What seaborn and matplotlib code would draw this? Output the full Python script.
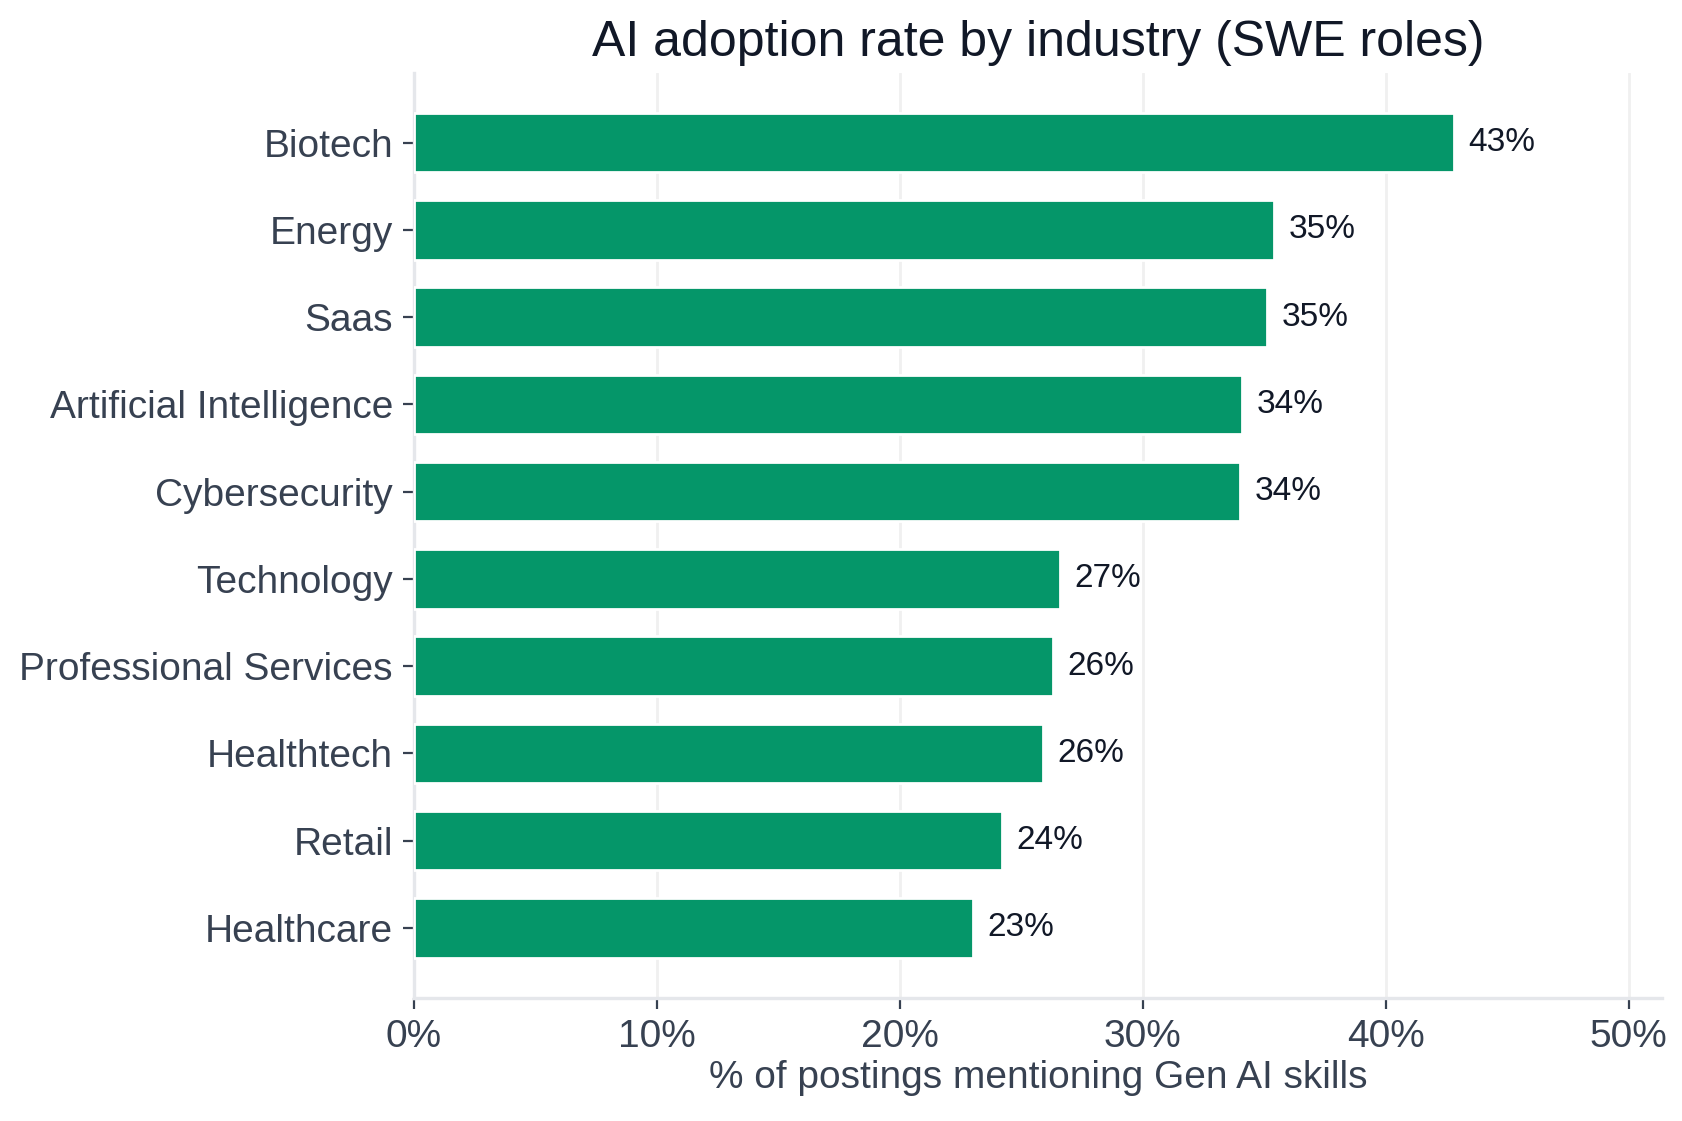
import numpy as np
import pandas as pd
import matplotlib
matplotlib.use('Agg')
import matplotlib.pyplot as plt
import seaborn as sns
from matplotlib.ticker import FuncFormatter

# 各行业 SWE 岗位中提到 Gen AI 技能的比例 (%)
industries = ['Biotech', 'Energy', 'Saas', 'Artificial Intelligence', 'Cybersecurity',
              'Technology', 'Professional Services', 'Healthtech', 'Retail', 'Healthcare']
rates = [42.8, 35.4, 35.1, 34.1, 34.0, 26.6, 26.3, 25.9, 24.2, 23.0]

df = pd.DataFrame({'industry': industries, 'rate': rates})

sns.set_theme(style='white')
plt.rcParams['font.family'] = ['Liberation Sans', 'DejaVu Sans']

fig, ax = plt.subplots(figsize=(8.41, 5.605), dpi=200)
fig.subplots_adjust(left=0.246, right=0.988, top=0.935, bottom=0.11)

sns.barplot(data=df, x='rate', y='industry', color='#059669', saturation=1,
            width=0.68, ax=ax, zorder=3)

for i, v in enumerate(df['rate']):
    ax.text(v + 0.6, i, '{:.0f}%'.format(v), va='center', ha='left',
            fontsize=12, color='#111827')

ax.set_xlim(0, max(rates) * 1.2)
ax.set_ylim(len(industries) - 0.2, -0.8)
ax.xaxis.set_major_formatter(FuncFormatter(lambda x, p: '{:.0f}%'.format(x)))
ax.grid(axis='x', color='#f0f0f0', linewidth=1, zorder=0)
ax.set_axisbelow(True)

ax.set_title('AI adoption rate by industry (SWE roles)', fontsize=18, color='#111827', pad=6)
ax.set_xlabel('% of postings mentioning Gen AI skills', fontsize=14, color='#374151', labelpad=2)
ax.set_ylabel('')
ax.tick_params(axis='both', labelsize=14, labelcolor='#374151', colors='#374151',
               length=4, width=0.8, bottom=True, left=True)

for s in ['top', 'right']:
    ax.spines[s].set_visible(False)
for s in ['left', 'bottom']:
    ax.spines[s].set_color('#e5e7eb')
    ax.spines[s].set_linewidth(1.2)

fig.savefig('out.png', dpi=200, facecolor='white')
